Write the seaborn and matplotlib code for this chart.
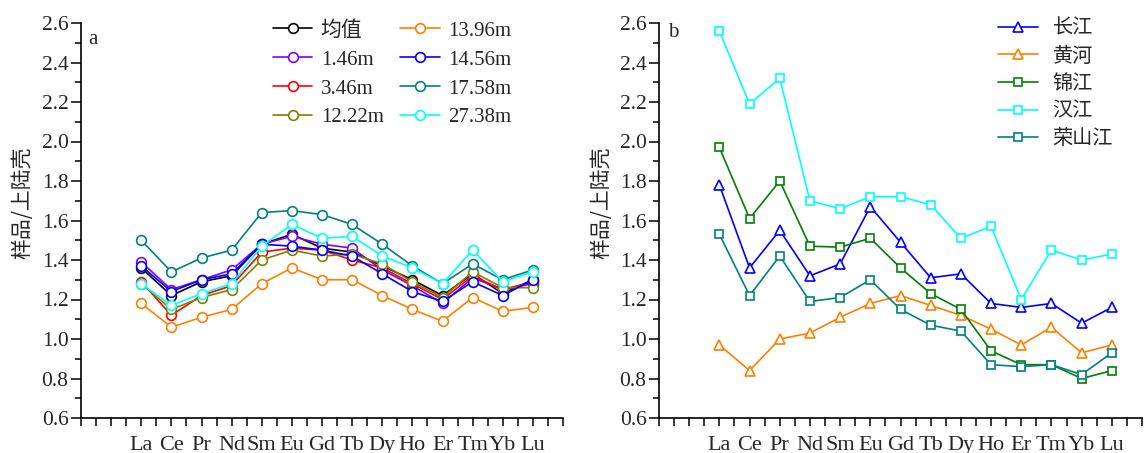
import numpy as np
import pandas as pd
import matplotlib
matplotlib.use("Agg")
import matplotlib.pyplot as plt
import seaborn as sns

sns.set_theme(style="white")
plt.rcParams['font.family'] = ['Liberation Serif', 'Noto Sans CJK SC', 'DejaVu Sans']
plt.rcParams['axes.unicode_minus'] = False

elements = ["La", "Ce", "Pr", "Nd", "Sm", "Eu", "Gd", "Tb", "Dy", "Ho", "Er", "Tm", "Yb", "Lu"]

# Panel a: depth profiles
a_names = ["均值", "1.46m", "3.46m", "12.22m", "13.96m", "14.56m", "17.58m", "27.38m"]
a_colors = ["#000000", "#8000FF", "#FF0000", "#808000", "#FF8000", "#0000FF", "#008080", "#00FFFF"]
mean_v   = [1.36, 1.22, 1.29, 1.32, 1.48, 1.53, 1.46, 1.44, 1.37, 1.30, 1.22, 1.33, 1.23, 1.30]
d1_46    = [1.39, 1.25, 1.30, 1.35, 1.48, 1.52, 1.48, 1.46, 1.35, 1.27, 1.18, 1.31, 1.25, 1.28]
d3_46    = [1.29, 1.12, 1.22, 1.27, 1.44, 1.46, 1.45, 1.40, 1.36, 1.28, 1.20, 1.32, 1.25, 1.29]
d12_22   = [1.28, 1.15, 1.21, 1.25, 1.40, 1.45, 1.42, 1.43, 1.38, 1.29, 1.21, 1.34, 1.26, 1.26]
d13_96   = [1.18, 1.06, 1.11, 1.15, 1.28, 1.36, 1.30, 1.30, 1.22, 1.15, 1.09, 1.21, 1.14, 1.16]
d14_56   = [1.37, 1.24, 1.30, 1.33, 1.48, 1.47, 1.45, 1.42, 1.33, 1.24, 1.19, 1.29, 1.22, 1.30]
d17_58   = [1.50, 1.34, 1.41, 1.45, 1.64, 1.65, 1.63, 1.58, 1.48, 1.37, 1.28, 1.38, 1.30, 1.35]
d27_38   = [1.28, 1.17, 1.23, 1.28, 1.47, 1.58, 1.51, 1.52, 1.42, 1.36, 1.28, 1.45, 1.29, 1.34]
a_values = [mean_v, d1_46, d3_46, d12_22, d13_96, d14_56, d17_58, d27_38]

# Panel b: rivers
b_names = ["长江", "黄河", "锦江", "汉江", "荣山江"]
b_colors = ["#0000FF", "#FF8000", "#008000", "#00FFFF", "#008080"]
b_markers = ["^", "^", "s", "s", "s"]
changjiang = [1.78, 1.36, 1.55, 1.32, 1.38, 1.67, 1.49, 1.31, 1.33, 1.18, 1.16, 1.18, 1.08, 1.16]
huanghe    = [0.97, 0.84, 1.00, 1.03, 1.11, 1.18, 1.22, 1.17, 1.12, 1.05, 0.97, 1.06, 0.93, 0.97]
jinjiang   = [1.97, 1.61, 1.80, 1.47, 1.465, 1.51, 1.36, 1.23, 1.15, 0.94, 0.87, 0.87, 0.80, 0.84]
hanjiang   = [2.56, 2.19, 2.32, 1.70, 1.66, 1.72, 1.72, 1.68, 1.51, 1.57, 1.20, 1.45, 1.40, 1.43]
rongshan   = [1.53, 1.22, 1.42, 1.19, 1.21, 1.30, 1.15, 1.07, 1.04, 0.87, 0.86, 0.87, 0.82, 0.93]
b_values = [changjiang, huanghe, jinjiang, hanjiang, rongshan]

fig = plt.figure(figsize=(11.44, 4.53), dpi=100)
axA = fig.add_axes([81/1144, 1-418/453, (563-81)/1144, (418-23)/453])
axB = fig.add_axes([659/1144, 1-418/453, (1142-659)/1144, (418-23)/453])

xpos = np.arange(len(elements))

for name, col, vals in zip(a_names, a_colors, a_values):
    sns.lineplot(x=xpos, y=vals, ax=axA, color=col, marker="o", markersize=7,
                 markerfacecolor="white", markeredgecolor=col, markeredgewidth=1.2,
                 linewidth=1.2, label=name)

for name, col, mk, vals in zip(b_names, b_colors, b_markers, b_values):
    sns.lineplot(x=xpos, y=vals, ax=axB, color=col, marker=mk,
                 markersize=7.5 if mk == "^" else 5.5,
                 markerfacecolor="white", markeredgecolor=col, markeredgewidth=1.2,
                 linewidth=1.2, label=name)

for ax in (axA, axB):
    ax.set_xlim(-2, 14)
    ax.set_ylim(0.6, 2.6)
    for s in ("top", "right"):
        ax.spines[s].set_visible(False)
    for s in ("left", "bottom"):
        ax.spines[s].set_color("black")
        ax.spines[s].set_linewidth(1.2)
    ax.set_xticks(xpos)
    ax.set_xticklabels(elements, fontsize=16)
    minor_x = [v for v in np.arange(-2, 14.01, 0.5) if not (float(v).is_integer() and 0 <= v <= 13)]
    ax.set_xticks(minor_x, minor=True)
    ax.set_yticks(np.arange(0.6, 2.61, 0.2))
    ax.set_yticklabels([f"{v:.1f}" for v in np.arange(0.6, 2.61, 0.2)], fontsize=15.5)
    ax.set_yticks(np.arange(0.7, 2.6, 0.2), minor=True)
    ax.tick_params(axis="x", which="both", direction="out", length=6, width=1.1,
                   color="black", pad=7, bottom=True)
    ax.tick_params(axis="y", which="major", direction="out", length=7, width=1.1,
                   color="black", pad=2, left=True)
    ax.tick_params(axis="y", which="minor", direction="out", length=4, width=1.1,
                   color="black", left=True)
    ax.set_ylabel("样品/上陆壳", fontsize=15, family=["Noto Sans CJK SC", "DejaVu Sans"])
    ax.set_xlabel("")
    ax.grid(False)

axA.yaxis.set_label_coords((33-81)/482, 0.544)
axB.yaxis.set_label_coords((612-659)/483, 0.544)

axA.text(0.025, 0.957, "a", transform=axA.transAxes, fontsize=15, va="center", ha="center")
axB.text(0.029, 0.975, "b", transform=axB.transAxes, fontsize=15, va="center", ha="center")

legA = axA.legend(ncol=2, loc="upper left", bbox_to_anchor=(0.398, 1.005), frameon=False,
                  handlelength=1.9, handletextpad=0.4, columnspacing=0.8,
                  labelspacing=0.45, borderpad=0, borderaxespad=0,
                  prop={"family": ["Liberation Serif", "Noto Sans CJK SC"], "size": 15})
legB = axB.legend(ncol=1, loc="upper left", bbox_to_anchor=(0.702, 1.013), frameon=False,
                  handlelength=2.0, handletextpad=0.7, labelspacing=0.33,
                  borderpad=0, borderaxespad=0,
                  prop={"family": ["Noto Sans CJK SC", "Liberation Serif"], "size": 14.5})

fig.savefig("out.png", dpi=100)
